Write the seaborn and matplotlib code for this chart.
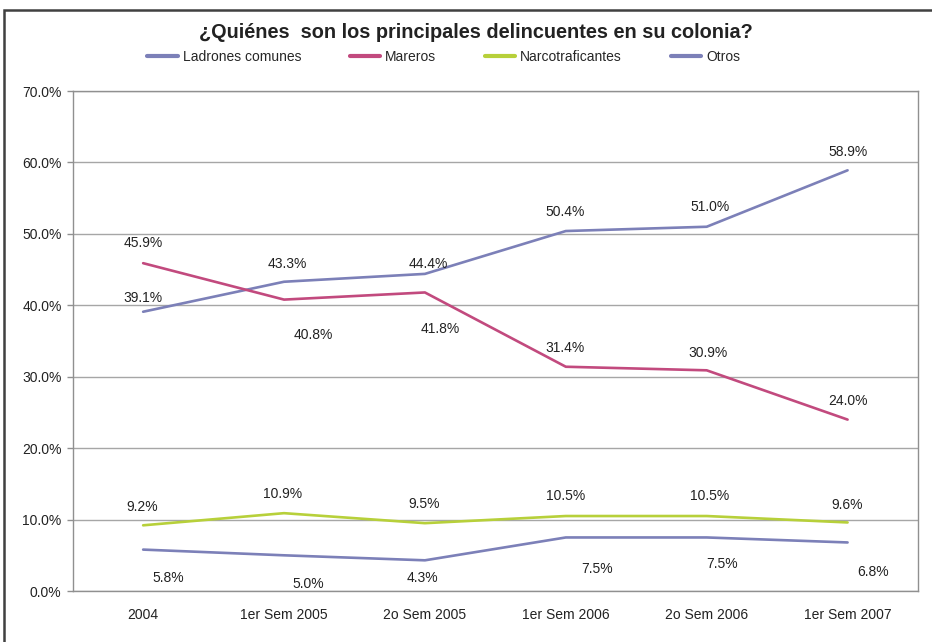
import pandas as pd
import matplotlib.pyplot as plt
import seaborn as sns
from matplotlib.patches import Rectangle
from matplotlib.lines import Line2D

# Data
periods = ["2004", "1er Sem 2005", "2o Sem 2005", "1er Sem 2006", "2o Sem 2006", "1er Sem 2007"]
ladrones = [39.1, 43.3, 44.4, 50.4, 51.0, 58.9]
mareros = [45.9, 40.8, 41.8, 31.4, 30.9, 24.0]
narcos = [9.2, 10.9, 9.5, 10.5, 10.5, 9.6]
otros = [5.8, 5.0, 4.3, 7.5, 7.5, 6.8]
series_names = ["Ladrones comunes", "Mareros", "Narcotraficantes", "Otros"]

colors = ["#7c80b8", "#c24a7e", "#b7d03a", "#7c80b8"]

# label offsets in pixels (dx, dy up)
label_offsets = [
    [(0, 14), (3, 18), (3, 10), (-1, 19), (3, 20), (0, 18)],
    [(0, 20), (29, -35), (15, -37), (-1, 19), (1, 17), (0, 19)],
    [(-1, 18), (-1, 19), (-1, 19), (0, 20), (3, 20), (0, 17)],
    [(25, -28), (24, -29), (-2, -18), (31, -32), (15, -27), (25, -30)],
]

values = [ladrones, mareros, narcos, otros]
df = pd.DataFrame({
    "x": list(range(len(periods))) * 4,
    "value": ladrones + mareros + narcos + otros,
    "serie": [s for s in series_names for _ in periods],
})

sns.set_style("white")
plt.rcParams["font.family"] = ["Liberation Sans", "DejaVu Sans"]

fig = plt.figure(figsize=(9.32, 6.42), dpi=100)
ax = fig.add_axes([0.078, 0.0794, 0.907, 0.7788])

sns.lineplot(data=df, x="x", y="value", hue="serie", palette=colors,
             linewidth=1.9, ax=ax, legend=False)

# data labels
px = 0.72
for vals, offs in zip(values, label_offsets):
    for i, v in enumerate(vals):
        ax.annotate(f"{v:.1f}%", (i, v), xytext=(offs[i][0] * px, offs[i][1] * px),
                    textcoords="offset points", ha="center", va="center",
                    fontsize=10, color="#222222")

ax.set_xlim(-0.5, len(periods) - 0.5)
ax.set_ylim(0, 70)
ax.set_yticks(range(0, 71, 10))
ax.set_yticklabels([f"{t:.1f}%" for t in range(0, 71, 10)], fontsize=10, color="#222222")
ax.set_xticks(range(len(periods)))
ax.set_xticklabels(periods, fontsize=10, color="#222222")
ax.set_xticks([i - 0.5 for i in range(len(periods) + 1)], minor=True)
ax.tick_params(axis="x", which="major", length=0, pad=12)
ax.tick_params(axis="x", which="minor", length=4, color="#909090", width=1, direction="out")
ax.tick_params(axis="y", length=4, color="#909090", width=1, direction="out", left=True, pad=4)
ax.set_xlabel("")
ax.set_ylabel("")
ax.grid(axis="y", color="#a6a6a6", linewidth=1)
ax.set_axisbelow(True)
for sp in ax.spines.values():
    sp.set_color("#909090")
    sp.set_linewidth(1)

fig.text(0.511, 0.949, "¿Quiénes  son los principales delincuentes en su colonia?",
         ha="center", va="center", fontsize=14.3, fontweight="bold", color="#222222")

handles = [Line2D([], [], color=c, linewidth=3) for c in colors]
fig.legend(handles, series_names, loc="center", bbox_to_anchor=(0.476, 0.911), ncol=4,
           frameon=False, fontsize=10, handlelength=2.2, handletextpad=0.35,
           columnspacing=3.5)

# outer frame
fig.patches.append(Rectangle((0.0045, -0.1), 1.2, 1.0844, transform=fig.transFigure,
                             fill=False, edgecolor="#404040", linewidth=1.8))

fig.savefig("out.png", dpi=100)
